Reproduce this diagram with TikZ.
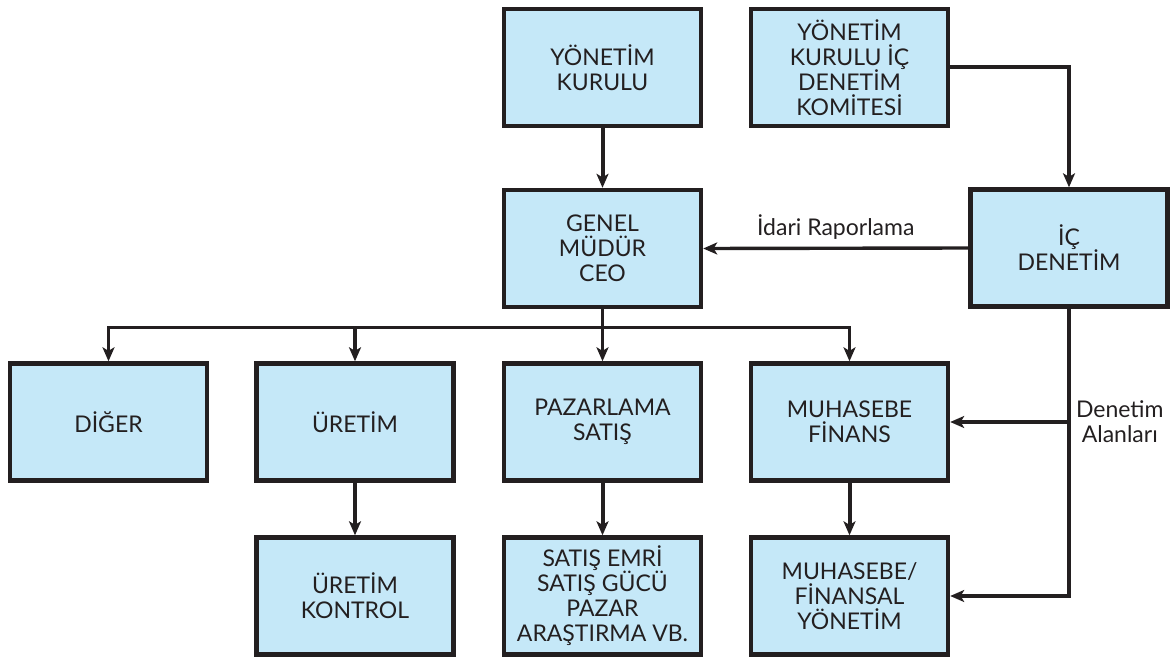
\documentclass[tikz,border=0pt]{standalone}
\usepackage{fontspec}
\setmainfont{Lato}
\usetikzlibrary{arrows.meta,positioning,calc}
\definecolor{kutu}{RGB}{197,232,248}
\definecolor{koyu}{RGB}{35,31,32}
\tikzset{
  every node/.style={align=center,font=\fontsize{11.5}{12.5}\selectfont},
  birim/.style={draw,fill=kutu,line width=2.2pt,minimum width=98.5pt,minimum height=58.5pt},
  ok/.style={line width=1.7pt,-{Stealth[length=7pt,width=6pt,inset=1.8pt]}},
  kalin/.style={line width=2pt},
}
\begin{document}
\begin{tikzpicture}[x=0.5pt,y=-0.5pt,color=koyu]
  \useasboundingbox (0,0) rectangle (1173,658);
  % ust sira
  \node[birim] (yk)  at (602.5,67.5) {YÖNETİM\\KURULU};
  \node[birim] (ykd) at (849.5,67.5) {YÖNETİM\\KURULU İÇ\\DENETİM\\KOMİTESİ};
  \node[birim] (gm)  at (602.5,248.5) {GENEL\\MÜDÜR\\CEO};
  \node[birim] (ic)  at (1069,248) {İÇ\\DENETİM};
  % birimler
  \node[birim] (dg) at (108.5,422) {DİĞER};
  \node[birim] (ur) at (355,422) {ÜRETİM};
  \node[birim] (pz) at (602.5,422) {PAZARLAMA\\SATIŞ};
  \node[birim] (mh) at (849.5,422) {MUHASEBE\\FİNANS};
  \node[birim] (uk) at (355,596) {ÜRETİM\\KONTROL};
  \node[birim] (se) at (602.5,596) {SATIŞ EMRİ\\SATIŞ GÜCÜ\\PAZAR\\ARAŞTIRMA VB.};
  \node[birim] (mf) at (849.5,596) {MUHASEBE/\\FİNANSAL\\YÖNETİM};

  \draw[ok,kalin] (yk) -- (gm);
  \draw[ok,kalin] (ykd.east) -| (ic.north);
  \draw[ok] (ic.west) -- node[above] (ir) {İdari Raporlama} (gm.east);
  \foreach \n in {dg,ur,pz,mh}
    \draw[ok] (gm.south) -- ++(0,18) -| (\n.north);
  \draw[ok] (ur) -- (uk);
  \draw[ok,kalin] (pz) -- (se);
  \draw[ok,kalin] (mh) -- (mf);
  % denetim alanlari
  \coordinate (da) at (ic.south |- mh.east);
  \draw[ok,kalin] (ic.south) |- (mf.east);
  \draw[ok] (da) -- (mh.east);
  \node[right] (dal) at (da) {Denetim\\Alanları};
\end{tikzpicture}
\end{document}
